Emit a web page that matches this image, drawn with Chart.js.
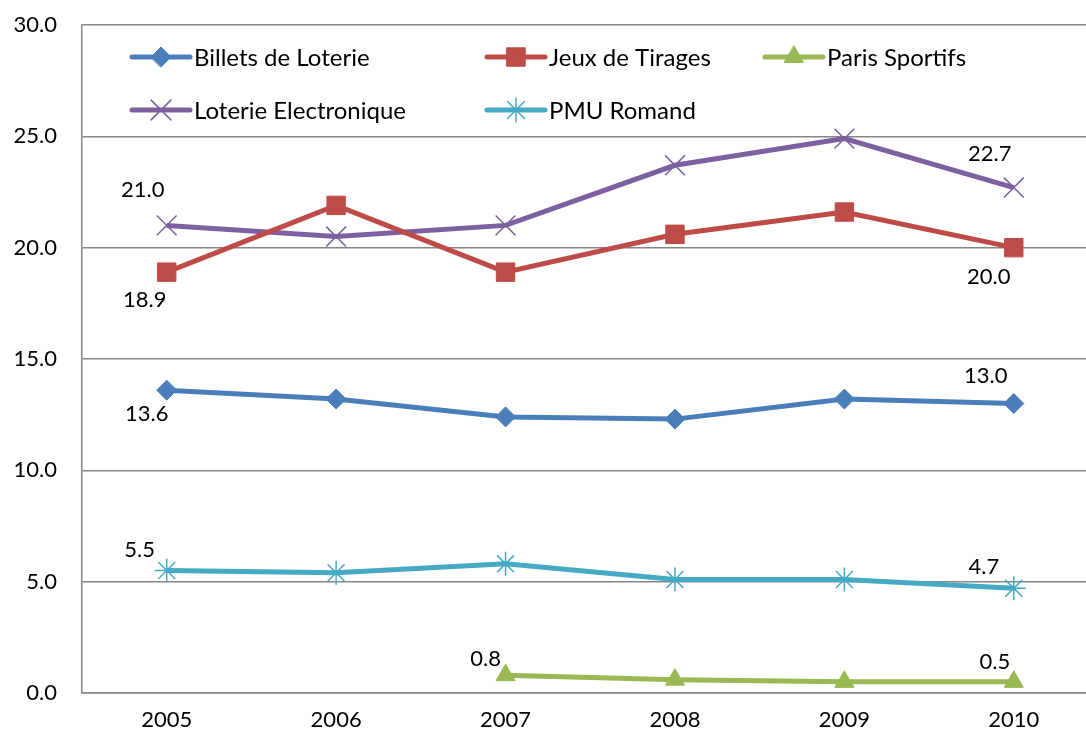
<!DOCTYPE html>
<html>
<head>
<meta charset="utf-8">
<script src="https://cdn.jsdelivr.net/npm/chart.js@4"></script>
<style>
  html, body { margin: 0; padding: 0; background: #fff; overflow: hidden; }
  #wrap { width: 1114px; height: 736px; }
</style>
</head>
<body>
<div id="wrap"><canvas id="myChart" width="1114" height="736"></canvas></div>
<script>
const years = ["2005", "2006", "2007", "2008", "2009", "2010"];
const billets = [13.6, 13.2, 12.4, 12.3, 13.2, 13.0];
const jeux = [18.9, 21.9, 18.9, 20.6, 21.6, 20.0];
const paris = [null, null, 0.8, 0.6, 0.5, 0.5];
const loterieElec = [21.0, 20.5, 21.0, 23.7, 24.9, 22.7];
const pmu = [5.5, 5.4, 5.8, 5.1, 5.1, 4.7];
const yTicks = [0, 5, 10, 15, 20, 25, 30];

const FONT = "Lato, 'Open Sans', sans-serif";

// quelles valeurs sont étiquetées : [index, dx, dy]
const labelSpots = {
    0: [[0, -20, 24], [5, -28, -28]],
    1: [[0, -22, 28], [5, -25, 29]],
    2: [[2, -20, -16], [5, -19, -20]],
    3: [[0, -24, -35], [5, -24, -34]],
    4: [[0, -27, -21], [5, -30, -21]]
};

const dataLabels = {
    id: "dataLabels",
    afterDatasetsDraw(chart) {
        const ctx = chart.ctx;
        ctx.save();
        ctx.font = "22px " + FONT;
        ctx.fillStyle = "#000";
        ctx.textAlign = "center";
        ctx.textBaseline = "middle";
        chart.data.datasets.forEach((ds, i) => {
            const meta = chart.getDatasetMeta(i);
            (labelSpots[i] || []).forEach(([idx, dx, dy]) => {
                const pt = meta.data[idx];
                ctx.fillText(ds.data[idx].toFixed(1), pt.x + dx, pt.y + dy);
            });
        });
        ctx.restore();
    }
};

// légende dessinée dans la zone du graphique
const legendSpots = [[132, 57], [487, 57], [765, 57], [132, 110], [487, 110]];
const innerLegend = {
    id: "innerLegend",
    afterDraw(chart) {
        const ctx = chart.ctx;
        ctx.save();
        chart.data.datasets.forEach((ds, i) => {
            const [x, y] = legendSpots[i];
            ctx.strokeStyle = ds.borderColor;
            ctx.lineWidth = 5;
            ctx.lineCap = "round";
            ctx.beginPath();
            ctx.moveTo(x, y);
            ctx.lineTo(x + 58, y);
            ctx.stroke();
            ctx.fillStyle = ds.pointBackgroundColor;
            ctx.strokeStyle = ds.pointBorderColor;
            ctx.lineWidth = ds.pointBorderWidth;
            ctx.beginPath();
            Chart.helpers.drawPoint(ctx, {
                pointStyle: ds.pointStyle,
                radius: ds.pointRadius,
                borderWidth: ds.pointBorderWidth,
                rotation: 0
            }, x + 29, y);
            ctx.fillStyle = "#000";
            ctx.font = "24px " + FONT;
            ctx.textAlign = "left";
            ctx.textBaseline = "middle";
            ctx.fillText(ds.label, x + 62, y + 1);
        });
        ctx.restore();
    }
};

function serie(label, data, color, style, radius, bw) {
    return {
        label: label,
        data: data,
        borderColor: color,
        backgroundColor: color,
        borderWidth: 5,
        pointStyle: style,
        pointRadius: radius,
        pointHoverRadius: radius,
        pointBackgroundColor: color,
        pointBorderColor: color,
        pointBorderWidth: bw,
        spanGaps: false,
        tension: 0
    };
}

const ctx = document.getElementById("myChart").getContext("2d");
new Chart(ctx, {
    type: "line",
    data: {
        labels: years,
        datasets: [
            serie("Billets de Loterie", billets, "#4A7EBB", "rectRot", 10, 1),
            serie("Jeux de Tirages", jeux, "#BE4B48", "rect", 13, 1),
            serie("Paris Sportifs", paris, "#98B954", "triangle", 11, 1),
            serie("Loterie Electronique", loterieElec, "#7D60A0", "crossRot", 14, 1.5),
            serie("PMU Romand", pmu, "#46AAC5", "star", 12, 1.5)
        ]
    },
    options: {
        responsive: false,
        animation: false,
        layout: { padding: { left: 0, right: 0, top: 25, bottom: 0 } },
        plugins: {
            legend: { display: false },
            tooltip: { enabled: false }
        },
        scales: {
            x: {
                offset: true,
                afterFit(scale) { scale.height = 43; },
                grid: { display: false, drawTicks: false },
                border: { color: "#868686", width: 1.5 },
                ticks: { color: "#000", font: { family: FONT, size: 22 }, padding: 14 }
            },
            y: {
                min: 0,
                max: 30,
                afterFit(scale) { scale.width = 82; },
                afterBuildTicks(scale) { scale.ticks = yTicks.map(v => ({ value: v })); },
                grid: {
                    color: "#868686",
                    lineWidth: 1.5,
                    drawTicks: true,
                    tickLength: 22,
                    tickColor: "rgba(0,0,0,0)"
                },
                border: { color: "#868686", width: 1.5 },
                ticks: {
                    color: "#000",
                    font: { family: FONT, size: 22 },
                    padding: 3,
                    callback: v => v.toFixed(1)
                }
            }
        }
    },
    plugins: [dataLabels, innerLegend]
});
</script>
</body>
</html>
